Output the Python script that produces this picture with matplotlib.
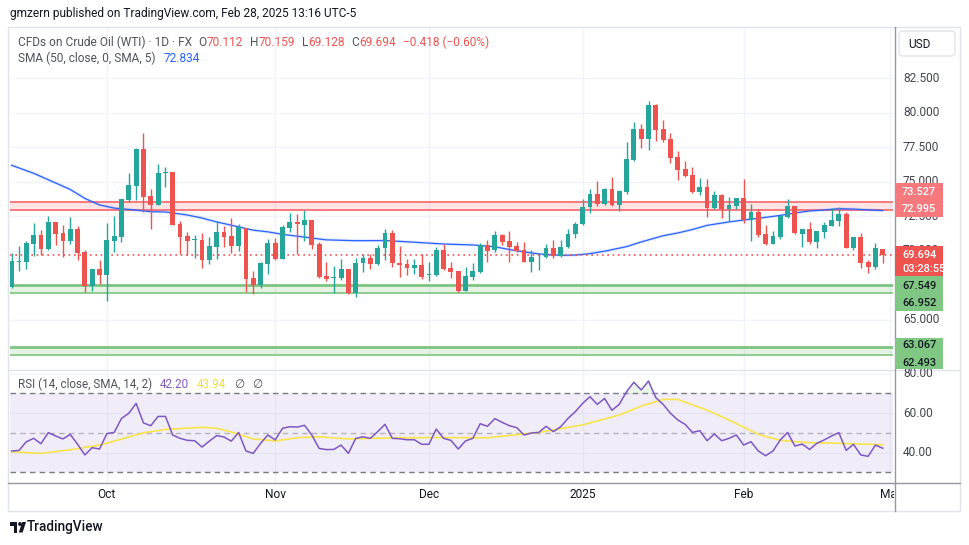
import matplotlib
matplotlib.use('Agg')
import matplotlib.pyplot as plt
import matplotlib.transforms as mtrans
from matplotlib.patches import Rectangle, FancyBboxPatch, Circle, Polygon
import numpy as np

# ---------------- data ----------------
opens = [67.37, 69.20, 69.22, 70.53, 71.15, 70.17, 72.10, 71.30, 70.74, 71.59,
         69.92, 67.49, 68.69, 68.28, 70.72, 71.03, 73.71, 74.70, 77.38, 73.98,
         73.35, 75.65, 75.72, 71.95, 71.08, 70.78, 70.79, 69.37, 70.31, 71.40,
         71.08, 70.38, 71.66, 68.02, 67.50, 69.08, 70.57, 69.44, 71.68, 72.09,
         71.90, 72.24, 70.50, 68.18, 68.05, 68.06, 68.69, 66.95, 69.10, 69.49,
         69.08, 70.21, 71.30, 69.13, 69.03, 68.79, 68.98, 68.25, 68.23, 70.07,
         68.74, 68.52, 67.12, 68.14, 68.50, 70.43, 70.04, 71.15, 70.74, 70.36,
         70.07, 69.22, 69.60, 69.58, 70.19, 69.63, 70.26, 71.20, 71.93, 73.16,
         74.12, 73.42, 74.48, 73.35, 74.29, 76.58, 78.83, 78.10, 80.57, 78.83,
         78.10, 76.80, 75.93, 75.50, 74.29, 74.63, 73.13, 74.05, 73.06, 73.28,
         73.83, 72.24, 72.82, 71.22, 70.50, 71.03, 72.48, 73.25, 71.22, 71.59,
         70.67, 71.39, 71.83, 72.19, 72.67, 70.24, 70.98, 69.17, 68.86, 70.112]
highs = [69.87, 70.36, 70.75, 72.02, 71.52, 72.53, 72.10, 71.88, 72.46, 71.81,
         70.07, 68.69, 69.34, 72.00, 72.53, 73.76, 75.64, 77.48, 78.54, 74.48,
         76.30, 76.10, 75.72, 72.14, 71.37, 71.15, 71.32, 71.03, 72.17, 71.80,
         72.41, 71.93, 71.66, 68.55, 69.20, 70.86, 70.90, 71.88, 72.72, 72.67,
         72.96, 72.24, 70.62, 69.20, 68.91, 69.42, 68.69, 69.51, 69.75, 69.78,
         70.43, 71.61, 71.52, 70.36, 69.39, 69.39, 69.75, 69.20, 70.28, 70.50,
         69.17, 68.55, 68.86, 69.15, 70.60, 70.79, 71.44, 71.25, 71.44, 70.67,
         70.67, 70.07, 69.83, 70.50, 70.79, 70.79, 71.56, 72.12, 73.76, 74.51,
         75.06, 74.56, 75.35, 74.41, 77.89, 79.33, 79.19, 80.86, 80.64, 79.48,
         78.54, 77.26, 76.51, 76.05, 75.28, 75.20, 74.34, 74.12, 73.90, 73.83,
         75.21, 73.40, 73.01, 71.88, 71.44, 72.60, 73.76, 73.25, 71.59, 72.07,
         71.44, 72.07, 73.09, 73.16, 72.79, 70.98, 71.30, 69.34, 70.57, 70.159]
lows = [67.30, 68.57, 68.69, 69.66, 69.73, 70.10, 70.45, 69.58, 70.50, 69.37,
        67.05, 67.12, 67.60, 66.40, 69.95, 70.62, 73.57, 73.69, 72.80, 71.59,
        73.30, 74.63, 71.90, 69.78, 69.73, 69.51, 68.79, 69.08, 69.42, 70.26,
        69.87, 70.02, 67.00, 66.86, 67.32, 68.35, 69.35, 69.40, 71.35, 69.80,
        70.74, 70.12, 68.02, 67.85, 66.98, 67.90, 66.90, 66.69, 68.50, 68.69,
        69.00, 69.37, 68.81, 68.14, 68.28, 68.35, 67.97, 67.80, 68.20, 68.60,
        68.04, 67.02, 67.10, 67.90, 68.40, 69.22, 69.90, 70.43, 69.22, 69.90,
        69.17, 68.50, 68.62, 69.50, 69.46, 69.53, 70.20, 70.91, 71.90, 72.77,
        73.28, 73.30, 73.28, 72.90, 74.12, 76.50, 77.48, 77.31, 77.96, 77.90,
        76.39, 75.16, 75.33, 74.19, 74.07, 72.48, 73.04, 72.41, 72.17, 73.00,
        72.00, 70.72, 71.03, 70.40, 70.50, 70.86, 72.40, 71.20, 70.31, 70.50,
        70.24, 70.96, 71.80, 71.83, 70.20, 70.07, 68.79, 68.43, 68.69, 69.128]
closes = [69.27, 69.25, 70.58, 71.15, 70.17, 72.10, 71.25, 70.74, 71.59, 69.87,
          67.49, 68.69, 68.28, 70.79, 71.08, 73.76, 74.77, 77.41, 73.93, 73.35,
          75.64, 75.70, 71.90, 71.00, 70.72, 70.82, 69.37, 70.36, 71.37, 71.03,
          70.38, 71.73, 67.99, 67.50, 69.13, 70.57, 69.44, 71.73, 72.09, 71.92,
          72.24, 70.43, 68.14, 67.99, 68.10, 68.69, 66.95, 69.10, 69.49, 69.08,
          70.21, 71.30, 69.10, 68.98, 68.79, 68.98, 68.14, 68.28, 70.07, 68.67,
          68.50, 67.12, 68.18, 68.55, 70.43, 70.02, 71.15, 70.67, 70.26, 70.02,
          69.22, 69.54, 69.64, 70.19, 69.63, 70.26, 71.22, 71.95, 73.20, 74.12,
          73.42, 74.48, 73.33, 74.31, 76.66, 78.83, 78.10, 80.57, 78.78, 78.06,
          76.75, 75.88, 75.43, 74.29, 74.63, 73.13, 74.05, 73.06, 73.33, 73.83,
          72.24, 72.82, 71.15, 70.50, 71.08, 72.53, 73.25, 71.27, 71.59, 70.67,
          71.44, 71.88, 72.24, 72.67, 70.24, 70.98, 69.15, 68.86, 70.21, 69.694]

sma_idx = [0, 3, 8, 10, 12, 14, 17, 19, 21, 24, 26, 28, 30, 33, 35, 37, 40, 43, 47,
           51, 55, 59, 63, 66, 68, 70, 72, 75, 77, 79, 81, 84, 86, 89, 91, 93, 95,
           98, 100, 102, 105, 107, 109, 111, 113, 115, 117, 119]
sma_val = [76.2, 75.62, 74.45, 73.8, 73.33, 73.1, 72.95, 72.84, 72.82, 72.6, 72.38,
           72.1, 71.86, 71.5, 71.38, 71.2, 71.0, 70.8, 70.74, 70.75, 70.63, 70.5,
           70.43, 70.3, 70.1, 69.93, 69.78, 69.68, 69.7, 69.8, 69.98, 70.31, 70.65,
           71.1, 71.3, 71.55, 71.85, 72.1, 72.24, 72.36, 72.57, 72.75, 72.89, 72.96,
           73.06, 73.03, 72.97, 72.92]

rsi = [40.8, 41.1, 45.5, 47.2, 44.5, 50.1, 48.4, 46.9, 49.2, 44.2,
       38.8, 42.5, 41.8, 49.6, 50.2, 57.3, 59.9, 64.9, 55.0, 53.6,
       58.3, 58.3, 48.9, 47.2, 46.2, 46.0, 42.8, 45.8, 48.6, 47.9,
       45.8, 50.2, 40.8, 39.6, 44.7, 48.9, 46.4, 52.3, 53.1, 52.9,
       53.8, 48.9, 42.1, 41.5, 41.6, 43.8, 39.6, 47.2, 48.0, 47.2,
       50.6, 54.3, 47.2, 47.0, 46.5, 46.5, 44.2, 44.2, 51.9, 47.2,
       46.2, 41.8, 45.9, 47.2, 54.6, 53.3, 57.2, 55.3, 53.6, 52.6,
       48.9, 49.9, 50.2, 53.3, 50.6, 53.1, 57.3, 60.7, 64.9, 68.3,
       64.4, 67.4, 61.4, 64.4, 70.8, 75.6, 71.7, 76.2, 67.8, 64.4,
       59.9, 56.5, 54.3, 50.2, 51.1, 46.0, 49.4, 46.0, 47.2, 48.9,
       43.8, 45.5, 40.8, 38.4, 40.8, 46.4, 50.2, 43.3, 44.3, 41.6,
       44.7, 46.4, 48.4, 50.1, 41.1, 44.2, 38.8, 38.1, 43.8, 42.2]

rsi_sma_idx = [0, 4, 8, 12, 14, 18, 21, 26, 28, 30, 33, 36, 39, 42, 46, 49, 53, 58,
               65, 72, 78, 83, 86, 89, 91, 95, 98, 102, 105, 109, 113, 119]
rsi_sma_val = [40.4, 39.6, 41.4, 43.8, 45.8, 50.0, 51.7, 52.8, 52.3, 50.4, 46.9, 45.9,
               47.5, 48.0, 46.9, 47.2, 47.5, 47.6, 47.5, 50.2, 54.0, 59.0, 63.5, 66.9,
               66.9, 61.5, 56.5, 49.2, 46.2, 45.0, 44.7, 43.94]

price_ticks = [65.0, 67.5, 70.0, 72.5, 75.0, 77.5, 80.0, 82.5]
price_ticks_hidden = [67.5]          # fully covered by the green price box
rsi_ticks = [40, 60, 80]
month_idx = [13, 36, 57, 78, 100, 120]
month_labels = ['Oct', 'Nov', 'Dec', '2025', 'Feb', 'Mar']

resist_band = (72.995, 73.527)
support_band1 = (66.952, 67.549)
support_band2 = (62.493, 63.067)
last_price = 69.694

# ---------------- styling ----------------
UP, DN = '#26A69A', '#EF5350'
GRID = '#F0F3FA'
TXT = '#131722'
LEG = '#50535E'
W, H = 970, 545

plt.rcParams['font.family'] = ['Roboto', 'DejaVu Sans']
fig = plt.figure(figsize=(W / 100, H / 100), dpi=100)
fig.patch.set_facecolor('white')


def frac(x0, y0, x1, y1):
    return [x0 / W, 1 - y1 / H, (x1 - x0) / W, (y1 - y0) / H]


ax = fig.add_axes(frac(10, 28, 893, 369))
rax = fig.add_axes(frac(10, 370, 893, 483))
ov = fig.add_axes([0, 0, 1, 1], zorder=10)
ov.set_xlim(0, W)
ov.set_ylim(H, 0)
ov.axis('off')
ov.patch.set_visible(False)

for a in (ax, rax):
    for s in a.spines.values():
        s.set_visible(False)
    a.set_xticks([])
    a.set_yticks([])
    a.set_xlim(-0.232, 120.4)
    for m in month_idx:
        a.axvline(m, color=GRID, lw=1, zorder=0)

ax.set_ylim(61.45, 86.14)
rax.set_ylim(24.6, 81.8)

for p in price_ticks:
    ax.axhline(p, color=GRID, lw=1, zorder=0)
for r in rsi_ticks:
    rax.axhline(r, color=GRID, lw=1, zorder=0)

# bands
ax.axhspan(*resist_band, color='#F23645', alpha=0.13, lw=0, zorder=1)
for v in resist_band:
    ax.axhline(v, color='#F7797D', lw=1.4, zorder=1)
for band in (support_band1, support_band2):
    ax.axhspan(*band, color='#4CAF50', alpha=0.15, lw=0, zorder=1)
    ax.axhline(band[1], color='#7CC47F', lw=2.0, zorder=1)
    ax.axhline(band[0], color='#7CC47F', lw=1.2, zorder=1)

# candles
xs = np.arange(len(closes))
o = np.array(opens); c = np.array(closes)
cols = np.where(c >= o, UP, DN)
ax.vlines(xs, lows, highs, colors=cols, lw=1, zorder=3)
ax.bar(xs, np.maximum(np.abs(c - o), 0.06), bottom=np.minimum(o, c), width=0.66,
       color=cols, lw=0, zorder=4)

# SMA
ax.plot(sma_idx, sma_val, color='#2962FF', lw=2.2, alpha=0.15, zorder=2,
        solid_capstyle='round')
ax.plot(sma_idx, sma_val, color='#2962FF', lw=0.9, zorder=2)

# last price dotted line
ax.axhline(last_price, color='#EF5350', lw=1.2, ls=(0, (1, 2.2)), zorder=2)

# RSI pane
rax.axhspan(30, 70, color='#7E57C2', alpha=0.1, lw=0, zorder=1)
rax.axhline(70, color='#787B86', lw=1, ls=(0, (4, 3)), zorder=2)
rax.axhline(50, color='#787B86', lw=1, ls=(0, (4, 3)), alpha=0.5, zorder=2)
rax.axhline(30, color='#787B86', lw=1, ls=(0, (4, 3)), zorder=2)
ra = np.array(rsi)
rax.fill_between(xs, ra, 70, where=ra > 70, interpolate=True, color='#4CAF50',
                 alpha=0.12, lw=0, zorder=1)
rax.plot(rsi_sma_idx, rsi_sma_val, color='#F7E44A', lw=1.2, zorder=3)
rax.plot(xs, rsi, color='#7E57C2', lw=1.1, zorder=4)

# ---------------- overlay: frames, axis labels, legends ----------------
ov.add_patch(Rectangle((8, 27), 952, 484, fill=False, ec='#E0E3EB', lw=1))
ov.plot([8, 960], [369.5, 369.5], color='#E0E3EB', lw=1)
ov.plot([895, 895], [27, 511], color='#9598A1', lw=1)
ov.plot([8, 960], [483, 483], color='#9598A1', lw=1)

tp = mtrans.blended_transform_factory(ov.transData, ax.transData)
for p in price_ticks:
    if p in price_ticks_hidden:
        continue
    ov.text(903, p, f'{p:.3f}', transform=tp, fontsize=8.6, color='#434651',
            va='center', ha='left', zorder=3)
tr = mtrans.blended_transform_factory(ov.transData, rax.transData)
for r in rsi_ticks:
    ov.text(903, r, f'{r:.2f}', transform=tr, fontsize=8.6, color='#434651',
            va='center', ha='left')

tt = mtrans.blended_transform_factory(rax.transData, ov.transData)
for m, lab in zip(month_idx, month_labels):
    t = ov.text(m, 495, lab, transform=tt, fontsize=8.6, color=TXT,
                ha='center', va='center')
    t.set_clip_box(mtrans.Bbox([[0, 0], [894, H]]))
    t.set_clip_on(True)

# USD box
ov.add_patch(FancyBboxPatch((899, 31), 56, 25, boxstyle='round,pad=0,rounding_size=4',
                            fc='white', ec='#E0E3EB', lw=1))
ov.text(908, 44, 'USD', fontsize=8.6, color=TXT, va='center', ha='left')


def label_box(y0, y1, color, lines, tcolor):
    ov.add_patch(Rectangle((895, y0), 48, y1 - y0, fc=color, ec='none', zorder=5))
    for yy, s in lines:
        ov.text(902, yy, s, fontsize=7.9, color=tcolor, va='center', ha='left',
                fontweight='medium', zorder=6)


label_box(183.3, 216.7, '#F7797D', [(192, '73.527'), (208.7, '72.995')], 'white')
label_box(246, 277, '#EF5350', [(255, '69.694'), (268.5, '03:28:55')], 'white')
label_box(276, 311, '#81C784', [(285.7, '67.549'), (303.3, '66.952')], TXT)
label_box(338, 368.5, '#81C784', [(345.3, '63.067'), (362.5, '62.493')], TXT)

renderer = fig.canvas.get_renderer()


def seq_line(x, y, parts, size, target=None, weight='normal'):
    def build(sz):
        arts, cx = [], x
        for txt, colr, gap in parts:
            t = ov.text(cx, y, txt, color=colr, fontsize=sz, va='center', ha='left',
                        fontweight=weight)
            w = t.get_window_extent(renderer).width
            arts.append(t)
            cx += w + gap
        return arts, cx - x
    arts, w = build(size)
    if target:
        for a in arts:
            a.remove()
        arts, w = build(size * target / w)
    return arts


seq_line(10, 14, [('gmzern published on TradingView.com, Feb 28, 2025 13:16 UTC-5', TXT, 0)],
         9, target=351)
RED = '#EF5350'
seq_line(18, 42, [('CFDs on Crude Oil (WTI) · 1D · FX', LEG, 6), ('O', LEG, 0), ('70.112', RED, 7),
                  ('H', LEG, 0), ('70.159', RED, 7), ('L', LEG, 0), ('69.128', RED, 7),
                  ('C', LEG, 0), ('69.694', RED, 7), ('−0.418 (−0.60%)', RED, 0)],
         9, target=472)
seq_line(18, 58, [('SMA (50, close, 0, SMA, 5)', LEG, 8), ('72.834', '#2962FF', 0)],
         9, target=182)
seq_line(18, 384, [('RSI (14, close, SMA, 14, 2)', LEG, 8), ('42.20', '#7E57C2', 8),
                   ('43.94', '#F2DC3A', 8), ('∅', LEG, 8), ('∅', LEG, 0)],
         9, target=244)

# TradingView logo
K = '#131722'
ov.add_patch(Rectangle((10, 522), 7.5, 3.6, fc=K, ec='none'))
ov.add_patch(Rectangle((13.9, 522), 3.6, 10.5, fc=K, ec='none'))
ov.add_patch(Circle((20.0, 524.0), 1.9, fc=K, ec='none'))
ov.add_patch(Polygon([(22.2, 522), (26.0, 522), (22.6, 532.5), (18.8, 532.5)], fc=K, ec='none'))
seq_line(27, 527, [('TradingView', K, 0)], 9, target=76, weight='medium')

fig.savefig('out.png', dpi=100, facecolor='white')
